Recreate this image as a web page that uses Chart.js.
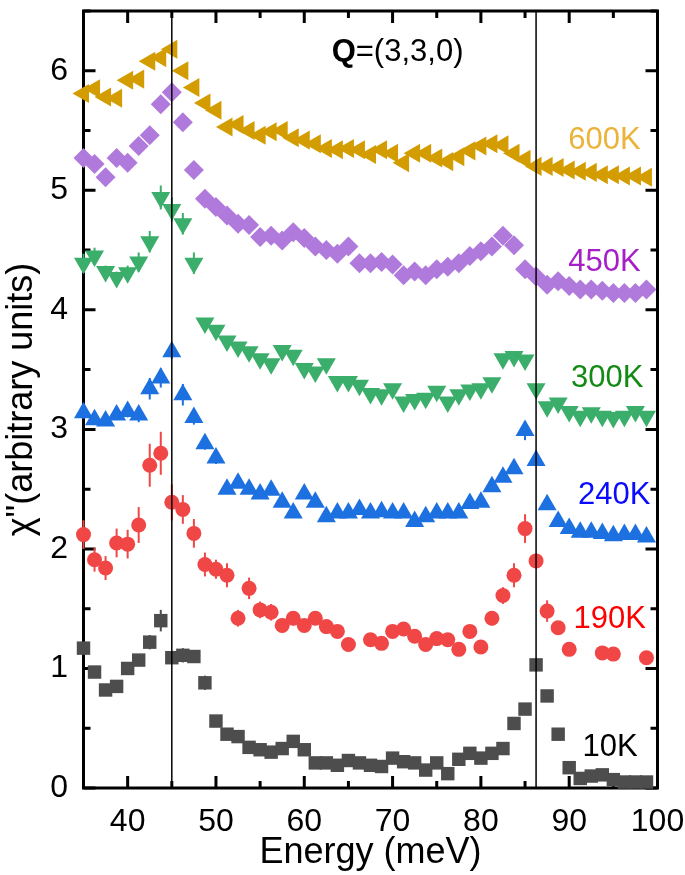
<!DOCTYPE html>
<html>
<head>
<meta charset="utf-8">
<script src="https://cdn.jsdelivr.net/npm/chart.js@4/dist/chart.umd.min.js"></script>
<style>
  body { margin: 0; background: #fff; }
  #chart { display: block; }
</style>
</head>
<body>
<canvas id="chart" width="685" height="875"></canvas>
<script>
// energy transfer (meV), one point every 1.25 meV
const energy = [35, 36.25, 37.5, 38.75, 40, 41.25, 42.5, 43.75, 45, 46.25, 47.5, 48.75,
  50, 51.25, 52.5, 53.75, 55, 56.25, 57.5, 58.75, 60, 61.25, 62.5, 63.75, 65, 66.25,
  67.5, 68.75, 70, 71.25, 72.5, 73.75, 75, 76.25, 77.5, 78.75, 80, 81.25, 82.5, 83.75,
  85, 86.25, 87.5, 88.75, 90, 91.25, 92.5, 93.75, 95, 96.25, 97.5, 98.75];

const chi10K = [1.17, 0.97, 0.82, 0.85, 1.00, 1.07, 1.22, 1.40, 1.09, 1.11, 1.10, 0.88,
  0.56, 0.45, 0.43, 0.34, 0.32, 0.30, 0.33, 0.39, 0.32, 0.21, 0.21, 0.19, 0.23, 0.21,
  0.19, 0.18, 0.25, 0.22, 0.21, 0.15, 0.21, 0.12, 0.24, 0.29, 0.25, 0.29, 0.33, 0.54,
  0.66, 1.03, 0.77, 0.45, 0.17, 0.08, 0.10, 0.11, 0.07, 0.05, 0.05, 0.05];
const err10K = [0.05, 0.05, 0.05, 0.05, 0.05, 0.05, 0.06, 0.09, 0.05, 0.06, 0.05, 0.06,
  0.04, 0.03, 0.03, 0.03, 0.03, 0.03, 0.03, 0.03, 0.03, 0.03, 0.03, 0.03, 0.03, 0.03,
  0.03, 0.03, 0.03, 0.03, 0.03, 0.03, 0.03, 0.03, 0.03, 0.03, 0.03, 0.03, 0.03, 0.03,
  0.04, 0.04, 0.03, 0.03, 0.03, 0.03, 0.03, 0.03, 0.03, 0.03, 0.03, 0.03];

const chi190K = [2.12, 1.91, 1.84, 2.05, 2.04, 2.20, 2.70, 2.80, 2.39, 2.33, 2.13, 1.87,
  1.83, 1.78, 1.42, 1.67, 1.49, 1.47, 1.36, 1.42, 1.36, 1.42, 1.35, 1.31, 1.20, null,
  1.24, 1.21, 1.31, 1.33, 1.27, 1.20, 1.25, 1.24, 1.16, 1.31, 1.18, 1.42, 1.61, 1.78,
  2.17, 1.90, 1.48, 1.34, 1.16, null, null, 1.13, 1.12, null, null, 1.09];
const err190K = [0.12, 0.10, 0.10, 0.12, 0.12, 0.15, 0.18, 0.18, 0.15, 0.12, 0.12, 0.10,
  0.08, 0.10, 0.07, 0.09, 0.07, 0.07, 0.06, 0.06, 0.05, 0.05, 0.05, 0.05, 0.04, null,
  0.04, 0.04, 0.04, 0.04, 0.04, 0.04, 0.04, 0.04, 0.04, 0.05, 0.05, 0.06, 0.07, 0.10,
  0.12, 0.06, 0.09, 0.05, 0.04, null, null, 0.04, 0.04, null, null, 0.04];

const chi240K = [3.14, 3.08, 3.07, 3.12, 3.15, 3.12, 3.34, 3.43, 3.65, 3.29, 3.10, 2.88,
  2.76, 2.50, 2.55, 2.50, 2.46, 2.49, 2.39, 2.30, 2.46, 2.39, 2.27, 2.30, 2.30, 2.33,
  2.30, 2.31, 2.30, 2.30, 2.23, 2.27, 2.30, 2.30, 2.30, 2.38, 2.39, 2.52, 2.60, 2.67,
  2.99, 2.74, 2.37, 2.23, 2.17, 2.14, 2.14, 2.13, 2.11, 2.12, 2.12, 2.10];
const err240K = [0.05, 0.04, 0.04, 0.04, 0.05, 0.06, 0.09, 0.08, 0.06, 0.09, 0.06, 0.05,
  0.05, 0.04, 0.03, 0.03, 0.03, 0.03, 0.03, 0.03, 0.03, 0.03, 0.03, 0.03, 0.03, 0.03,
  0.03, 0.03, 0.03, 0.03, 0.03, 0.03, 0.03, 0.03, 0.03, 0.03, 0.03, 0.03, 0.04, 0.04,
  0.08, 0.04, 0.03, 0.03, 0.03, 0.03, 0.03, 0.03, 0.03, 0.03, 0.03, 0.03];

const chi300K = [4.39, 4.45, 4.32, 4.27, 4.31, 4.40, 4.57, 4.94, 4.84, 4.72, 4.39, 3.89,
  3.83, 3.74, 3.69, 3.65, 3.59, 3.55, 3.66, 3.62, 3.51, 3.48, 3.55, 3.40, 3.40, 3.37,
  3.30, 3.29, 3.34, 3.23, 3.25, 3.26, 3.32, 3.23, 3.29, 3.33, 3.34, 3.39, 3.59, 3.61,
  3.58, 3.34, 3.19, 3.22, 3.15, 3.11, 3.14, 3.11, 3.10, 3.11, 3.15, 3.11];
const err300K = [0.08, 0.07, 0.05, 0.05, 0.06, 0.08, 0.09, 0.10, 0.10, 0.09, 0.09, 0.04,
  0.03, 0.03, 0.03, 0.03, 0.03, 0.03, 0.03, 0.03, 0.03, 0.03, 0.03, 0.03, 0.03, 0.03,
  0.03, 0.03, 0.03, 0.03, 0.03, 0.03, 0.03, 0.03, 0.03, 0.03, 0.03, 0.03, 0.03, 0.03,
  0.03, 0.03, 0.03, 0.03, 0.03, 0.03, 0.03, 0.03, 0.03, 0.03, 0.03, 0.03];

const chi450K = [5.27, 5.22, 5.11, 5.27, 5.23, 5.37, 5.46, 5.72, 5.82, 5.57, 5.17, 4.93,
  4.86, 4.79, 4.72, 4.71, 4.61, 4.62, 4.58, 4.65, 4.60, 4.53, 4.50, 4.47, 4.53, 4.39,
  4.39, 4.40, 4.38, 4.29, 4.32, 4.29, 4.34, 4.36, 4.39, 4.45, 4.49, 4.53, 4.62, 4.54,
  4.34, 4.28, 4.21, 4.24, 4.20, 4.17, 4.17, 4.16, 4.14, 4.14, 4.14, 4.17];

const chi600K = [5.81, 5.85, 5.78, 5.77, 5.92, 5.93, 6.08, 6.11, 6.18, 6.00, 5.86, 5.73,
  5.67, 5.53, 5.55, 5.50, 5.46, 5.49, 5.50, 5.44, 5.42, 5.39, 5.35, 5.34, 5.35, 5.34,
  5.30, 5.34, 5.31, 5.23, 5.31, 5.31, 5.27, 5.24, 5.28, 5.33, 5.37, 5.39, 5.38, 5.31,
  5.26, 5.20, 5.20, 5.19, 5.17, 5.16, 5.15, 5.13, 5.13, 5.12, 5.12, 5.11];

// vertical guide lines (meV)
const guideLines = [45, 86.25];

const xTickLabels = [40, 50, 60, 70, 80, 90, 100];
const yTickLabels = [0, 1, 2, 3, 4, 5, 6];

const FONT = "'Liberation Sans', Arial, sans-serif";

function toPoints(vals, errs) {
    const out = [];
    energy.forEach((e, i) => {
        if (vals[i] == null) return;
        out.push({ x: e, y: vals[i], err: errs ? errs[i] : null });
    });
    return out;
}

function series(label, vals, errs, color, style, radius, rotation) {
    return {
        label: label,
        data: toPoints(vals, errs),
        backgroundColor: color,
        borderColor: color,
        borderWidth: 0,
        pointStyle: style,
        pointRadius: radius,
        pointRotation: rotation || 0,
        showLine: false,
        clip: false
    };
}

const datasets = [];
guideLines.forEach(v => {
    datasets.push({
        label: 'guide ' + v,
        type: 'line',
        data: [{ x: v, y: 0 }, { x: v, y: 6.5 }],
        borderColor: '#000',
        borderWidth: 1.5,
        pointRadius: 0,
        showLine: true,
        clip: false
    });
});
datasets.push(series('600K', chi600K, null, '#d39c00', 'triangle', 11, 270));
datasets.push(series('450K', chi450K, null, '#b07adc', 'rectRot', 10));
datasets.push(series('300K', chi300K, err300K, '#3aae6a', 'triangle', 11, 180));
datasets.push(series('240K', chi240K, err240K, '#1d70e0', 'triangle', 11));
datasets.push(series('190K', chi190K, err190K, '#f04646', 'circle', 7.5));
datasets.push(series('10K', chi10K, err10K, '#4d4d4d', 'rect', 9.5));

// text labels next to each curve, placed in data units
const curveLabels = [
    { text: '600K', x: 98.1, y: 5.42, color: '#ebb33a' },
    { text: '450K', x: 98.1, y: 4.40, color: '#a61ec8' },
    { text: '300K', x: 98.4, y: 3.43, color: '#138a13' },
    { text: '240K', x: 99.2, y: 2.45, color: '#0a0aff' },
    { text: '190K', x: 98.7, y: 1.41, color: '#ff0000' },
    { text: '10K', x: 97.75, y: 0.34, color: '#000000' }
];

const errorBars = {
    id: 'errorBars',
    beforeDatasetDraw(chart, args) {
        const ds = chart.data.datasets[args.index];
        const meta = args.meta;
        const yScale = chart.scales.y;
        const ctx = chart.ctx;
        ctx.save();
        ctx.strokeStyle = ds.borderColor;
        ctx.lineWidth = 2;
        ds.data.forEach((p, i) => {
            if (p.err == null) return;
            const el = meta.data[i];
            ctx.beginPath();
            ctx.moveTo(el.x, yScale.getPixelForValue(p.y - p.err));
            ctx.lineTo(el.x, yScale.getPixelForValue(p.y + p.err));
            ctx.stroke();
        });
        ctx.restore();
    }
};

const frame = {
    id: 'frame',
    beforeDatasetsDraw(chart) {
        const { ctx, chartArea: a, scales } = chart;
        ctx.save();
        ctx.strokeStyle = '#000';
        ctx.lineWidth = 3;
        ctx.strokeRect(a.left, a.top, a.right - a.left, a.bottom - a.top);
        ctx.beginPath();
        for (let v = 35; v <= 100; v += 5) {
            const px = scales.x.getPixelForValue(v);
            const len = v % 10 === 0 ? 12 : 7;
            ctx.moveTo(px, a.bottom); ctx.lineTo(px, a.bottom - len);
            ctx.moveTo(px, a.top); ctx.lineTo(px, a.top + len);
        }
        for (let v = 0; v <= 6.5; v += 0.5) {
            const py = scales.y.getPixelForValue(v);
            const len = v % 1 === 0 ? 12 : 7;
            ctx.moveTo(a.left, py); ctx.lineTo(a.left + len, py);
            ctx.moveTo(a.right, py); ctx.lineTo(a.right - len, py);
        }
        ctx.stroke();
        ctx.restore();
    },
    afterDraw(chart) {
        const { ctx, scales } = chart;
        ctx.save();
        ctx.textBaseline = 'middle';
        ctx.textAlign = 'right';
        ctx.font = '31px ' + FONT;
        curveLabels.forEach(l => {
            ctx.fillStyle = l.color;
            ctx.fillText(l.text, scales.x.getPixelForValue(l.x), scales.y.getPixelForValue(l.y));
        });
        // Q=(3,3,0)
        ctx.textAlign = 'left';
        ctx.fillStyle = '#000';
        let qx = scales.x.getPixelForValue(63.1);
        const qy = scales.y.getPixelForValue(6.15);
        ctx.font = 'bold 31px ' + FONT;
        ctx.fillText('Q', qx, qy);
        qx += ctx.measureText('Q').width;
        ctx.font = '31px ' + FONT;
        ctx.fillText('=(3,3,0)', qx, qy);
        ctx.restore();
    }
};

new Chart(document.getElementById('chart'), {
    type: 'scatter',
    data: { datasets: datasets },
    options: {
        responsive: false,
        animation: false,
        devicePixelRatio: 1,
        layout: { padding: { left: 0, right: 27.5, top: 3, bottom: 0 } },
        plugins: { legend: { display: false }, tooltip: { enabled: false } },
        scales: {
            x: {
                type: 'linear',
                min: 35,
                max: 100,
                grid: { display: false, drawTicks: false },
                border: { display: false },
                ticks: { stepSize: 10, padding: 15, color: '#000', font: { family: FONT, size: 32 } },
                title: { display: true, text: 'Energy (meV)', color: '#000', padding: 0, font: { family: FONT, size: 36 } },
                afterBuildTicks: scale => {
                    scale.ticks = xTickLabels.map(v => ({ value: v }));
                },
                afterFit: scale => {
                    scale.height = 87;
                    scale.paddingLeft = 0;
                    scale.paddingRight = 0;
                }
            },
            y: {
                type: 'linear',
                min: 0,
                max: 6.5,
                grid: { display: false, drawTicks: false },
                border: { display: false },
                ticks: { stepSize: 1, padding: 15.5, color: '#000', font: { family: FONT, size: 32 } },
                title: { display: true, text: 'χ"(arbitrary units)', color: '#000', padding: 0, font: { family: FONT, size: 36 } },
                afterBuildTicks: scale => {
                    scale.ticks = yTickLabels.map(v => ({ value: v }));
                },
                afterFit: scale => {
                    scale.width = 83.5;
                    scale.paddingTop = 0;
                    scale.paddingBottom = 0;
                }
            }
        }
    },
    plugins: [errorBars, frame]
});
</script>
</body>
</html>
